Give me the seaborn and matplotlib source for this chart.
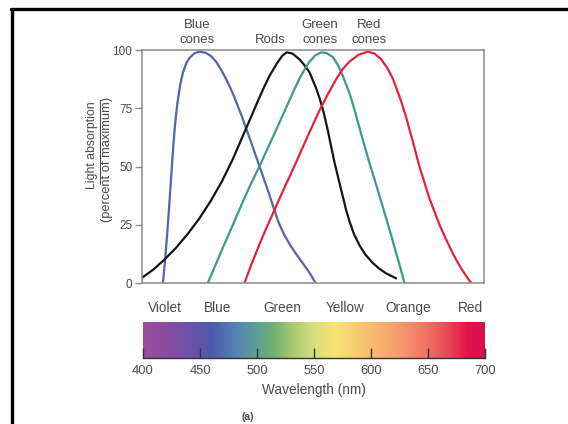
import numpy as np
import pandas as pd
import matplotlib
matplotlib.use('Agg')
import matplotlib.pyplot as plt
from matplotlib.colors import LinearSegmentedColormap
from matplotlib.lines import Line2D
import seaborn as sns

# Absorption curves (wavelength in nm, percent of max)
blue_wl = [418.3, 420.3, 422.1, 424, 425.8, 427.3, 429, 431, 433.5, 436, 439, 442,
           446, 450.4, 456, 460.7, 465, 469.5, 473, 476.8, 480, 484, 488, 492,
           496, 501, 506, 511, 516, 520, 525, 530, 535, 540, 545, 549, 552.2]
blue_val = [0, 10, 21, 34, 47, 58, 68, 77, 85, 90.5, 94.5, 96.8,
            98.6, 99.3, 98.8, 97.3, 95, 91.5, 88.3, 84.5, 81, 76, 71, 65.5,
            60, 53, 46, 39, 31.5, 25.8, 20.5, 16.3, 12.6, 9.2, 5.8, 2.8, 0]

rods_wl = [399.3, 410, 420, 430, 440, 450, 460, 470, 480, 485.5, 491, 497.2, 502,
           507.5, 512, 518, 523, 527, 532, 538.2, 542, 546.9, 552.8, 556, 559.5,
           563, 566, 569, 572.5, 576, 579, 582, 586, 591, 596, 602.5, 608, 614, 623]
rods_val = [2, 5.8, 10.2, 15.2, 21, 27.5, 35, 43.5, 53.5, 59.8, 66, 73, 78.5,
            84.5, 89, 94, 97.5, 99, 98.5, 96, 93.8, 90.5, 83.6, 79, 73,
            65.5, 58.5, 51.5, 44.5, 37.5, 31.5, 26.5, 21, 16, 12.2, 8.6, 6.2, 4.2, 2]

green_wl = [457.7, 463, 468, 473, 478, 483, 488.4, 495, 503, 510, 517, 523, 529,
            534, 539, 543, 547, 552, 557.2, 562, 567.4, 572, 576.1, 582, 586.4,
            590, 594, 599.6, 604, 608.3, 612, 615.6, 619.5, 623, 627, 630.3]
green_val = [0, 6, 11.8, 17.5, 23, 28.7, 34.8, 42, 50, 57.5, 65, 71.5, 78,
             83.5, 88.5, 92, 95, 97.7, 99, 98.7, 97, 93.5, 89, 81.5, 74.5,
             68, 61, 51.5, 44.5, 37.5, 31.5, 25.5, 19, 12.8, 6, 0]

red_wl = [489.9, 496, 503, 509, 515, 520, 526, 534, 544, 550, 555.7, 563, 570.4,
          576, 582, 590, 598.1, 604, 609.8, 615, 620, 627.4, 631.8, 637.5, 643.4,
          652.2, 661, 667, 672.6, 677, 681.4, 685, 688.8]
red_val = [0, 8, 16.5, 23.5, 30, 35.5, 42, 50.5, 61.5, 68, 74, 81, 87.5,
           91.8, 95, 98, 99.3, 98.5, 96, 92.5, 87.8, 78, 71, 61, 50,
           36.3, 25, 18.5, 12.8, 8.8, 5.2, 2.6, 0]

curve_names = ['Blue cones', 'Rods', 'Green cones', 'Red cones']
curve_colors = ['#5563b0', '#151515', '#3c9a8a', '#e5213d']

# labels above the peaks (wavelength position, first line, second line)
peak_label_wl = [448, 513, 556, 599]
peak_label_top = ['Blue', '', 'Green', 'Red']
peak_label_bot = ['cones', 'Rods', 'cones', 'cones']

# colour names above the spectrum bar
band_wl = [419, 465, 522, 577, 633, 687]
band_names = ['Violet', 'Blue', 'Green', 'Yellow', 'Orange', 'Red']

wl_ticks = [400, 450, 500, 550, 600, 650, 700]
abs_ticks = [0, 25, 50, 75, 100]

# spectrum colour stops
spec_wl = [400, 420, 440, 460, 480, 500, 515, 530, 550, 570, 590, 610, 630, 650, 670, 685, 700]
spec_col = ['#9c4b9b', '#8a4c9f', '#6b52a9', '#4c5ba9', '#5580b4', '#5fa094', '#72b271',
            '#a2c872', '#d8e07e', '#f9e172', '#f9c96f', '#f8b16f', '#f79270', '#f07162',
            '#e84353', '#e01448', '#d5134c']

frames = []
for name, w, v in zip(curve_names, [blue_wl, rods_wl, green_wl, red_wl],
                      [blue_val, rods_val, green_val, red_val]):
    frames.append(pd.DataFrame({'wavelength': w, 'absorption': v, 'pigment': name}))
df = pd.concat(frames, ignore_index=True)

sns.set_style('white')
plt.rcParams['font.family'] = ['Liberation Sans', 'DejaVu Sans']
txt_col = '#4a4a4a'
spine_col = '#8a8a8a'

fig = plt.figure(figsize=(5.68, 4.24), dpi=100)
ax = fig.add_axes([0.25, 0.3325, 0.602, 0.5495])

sns.lineplot(data=df, x='wavelength', y='absorption', hue='pigment',
             palette=dict(zip(curve_names, curve_colors)), estimator=None,
             linewidth=1.6, legend=False, ax=ax)
for ln in ax.get_lines():
    ln.set_solid_joinstyle('round')

ax.set_xlim(400, 700)
ax.set_ylim(0, 100)
ax.set_xticks([])
ax.set_yticks(abs_ticks)
ax.set_yticklabels([str(t) for t in abs_ticks])
ax.tick_params(axis='y', left=True, direction='out', length=5, width=1,
               color=spine_col, labelsize=8.5, labelcolor=txt_col, pad=2)
ax.set_xlabel('')
ax.set_ylabel('')
for s in ax.spines.values():
    s.set_color(spine_col)
    s.set_linewidth(1.1)

for w, t1, t2 in zip(peak_label_wl, peak_label_top, peak_label_bot):
    ax.text(w, 110.7, t1, ha='center', va='center', fontsize=9.5, color=txt_col,
            clip_on=False)
    ax.text(w, 104.3, t2, ha='center', va='center', fontsize=9.5, color=txt_col,
            clip_on=False)

# y label as a fraction: "Light absorption" over "(percent of maximum)"
fig.text(0.1625, 0.761, 'Light absorption', rotation=90, ha='center', va='top',
         fontsize=8.8, color=txt_col)
fig.text(0.1885, 0.771, '(percent of maximum)', rotation=90, ha='center', va='top',
         fontsize=9.3, color=txt_col)
fig.add_artist(Line2D([0.1765, 0.1765], [0.566, 0.764], color=txt_col, lw=0.8))

# spectrum bar
bx = fig.add_axes([0.2518, 0.156, 0.602, 0.084])
cmap = LinearSegmentedColormap.from_list(
    'spec', [((w - 400) / 300, c) for w, c in zip(spec_wl, spec_col)])
grad = np.linspace(400, 700, 600)[None, :]
bx.imshow(grad, cmap=cmap, vmin=400, vmax=700, aspect='auto',
          extent=[400, 700, 0, 1], origin='lower')
bx.set_xlim(400, 700)
bx.set_ylim(0, 1)
bx.set_yticks([])
bx.set_xticks(wl_ticks)
bx.set_xticklabels([str(t) for t in wl_ticks])
bx.tick_params(axis='x', bottom=True, direction='in', length=7, width=1,
               color='#333333', labelsize=9.3, labelcolor=txt_col, pad=5.5)
for side, s in bx.spines.items():
    s.set_visible(side == 'bottom')
bx.spines['bottom'].set_color('#333333')
bx.spines['bottom'].set_linewidth(1.0)
bx.set_xlabel('Wavelength (nm)', fontsize=9.8, color=txt_col, labelpad=4)

for w, t in zip(band_wl, band_names):
    bx.text(w, 1.39, t, ha='center', va='center', fontsize=9.8, color=txt_col,
            clip_on=False)

fig.text(0.437, 0.0155, '(a)', ha='center', va='center', fontsize=7.5,
         color=txt_col, fontweight='bold')

# black frame lines at top and left of the picture
fig.add_artist(Line2D([0.019, 1.0], [0.978, 0.978], color='black', lw=2.4))
fig.add_artist(Line2D([0.021, 0.021], [0.0, 0.978], color='black', lw=2.4))

fig.savefig('out.png', dpi=100)
plt.close(fig)
